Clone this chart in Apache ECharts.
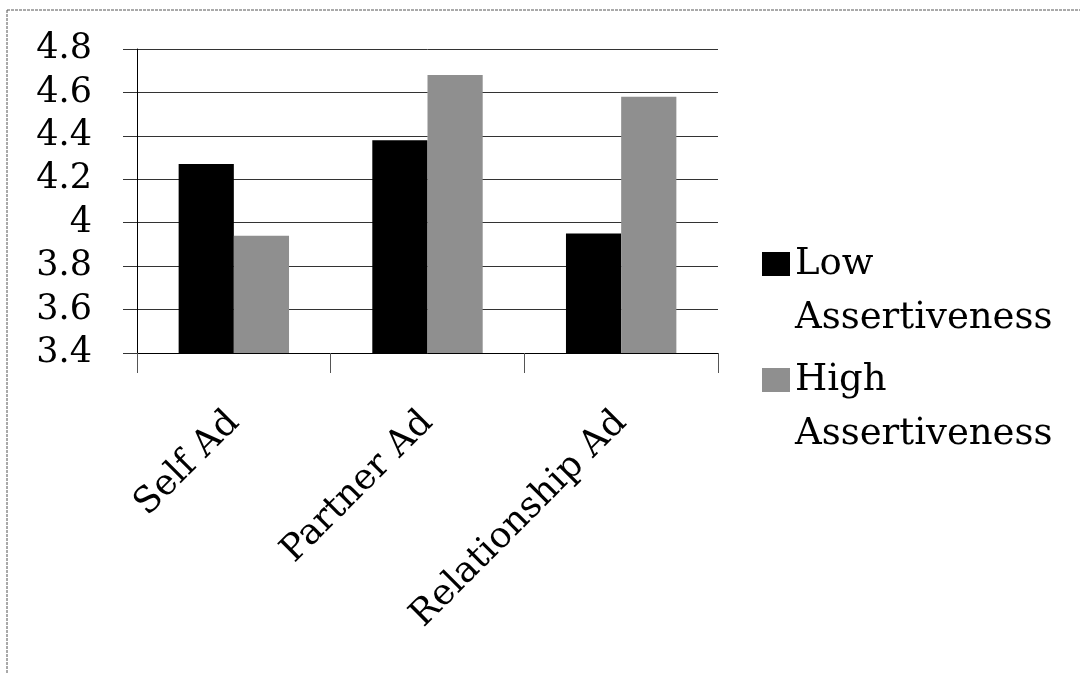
<!DOCTYPE html>
<html>
<head>
<meta charset="utf-8">
<script src="https://cdn.jsdelivr.net/npm/echarts@6/dist/echarts.min.js"></script>
<style>
html,body{margin:0;padding:0;background:#fff;}
#chart{width:1080px;height:674px;}
</style>
</head>
<body>
<div id="chart"></div>
<script>
var categories = ['Self Ad', 'Partner Ad', 'Relationship Ad'];
var lowAssertiveness = [4.27, 4.38, 3.95];
var highAssertiveness = [3.94, 4.68, 4.58];
var seriesNames = ['Low Assertiveness', 'High Assertiveness'];
var yMin = 3.4, yMax = 4.8, yInterval = 0.2;

var FONT = 'DejaVu Serif';
var chart = echarts.init(document.getElementById('chart'), null, {renderer: 'canvas'});
chart.setOption({
  animation: false,
  backgroundColor: '#fff',
  graphic: [
    {type: 'line', shape: {x1: 7, y1: 10, x2: 1080, y2: 10},
     style: {stroke: '#555', lineWidth: 1, lineDash: [3, 1]}},
    {type: 'line', shape: {x1: 7, y1: 10, x2: 7, y2: 674},
     style: {stroke: '#555', lineWidth: 1, lineDash: [3, 1]}}
  ],
  grid: {left: 137, right: 362, top: 49, bottom: 321, containLabel: false},
  legend: {
    orient: 'vertical',
    left: 762,
    top: 183,
    padding: 0,
    icon: 'rect',
    itemWidth: 28,
    itemHeight: 24,
    itemGap: -46,
    selectedMode: false,
    formatter: function (name) { return '\u00a0\n' + name.replace(' ', '\n'); },
    textStyle: {fontFamily: FONT, fontSize: 37, color: '#000', lineHeight: 54},
    data: seriesNames
  },
  xAxis: {
    type: 'category',
    data: categories,
    axisLine: {lineStyle: {color: '#000', width: 1}},
    axisTick: {show: true, length: 20, lineStyle: {color: '#555'}},
    axisLabel: {rotate: 45, margin: 64, fontFamily: FONT, fontSize: 36, color: '#000', interval: 0}
  },
  yAxis: {
    type: 'value',
    min: yMin, max: yMax, interval: yInterval,
    axisLine: {show: true, lineStyle: {color: '#000', width: 1}},
    axisTick: {show: true, length: 14, lineStyle: {color: '#333'}},
    splitLine: {show: true, lineStyle: {color: '#333', width: 1}},
    axisLabel: {margin: 45, fontFamily: FONT, fontSize: 35, color: '#000'}
  },
  series: [
    {name: seriesNames[0], type: 'bar', data: lowAssertiveness, barGap: '0%', barCategoryGap: '43%',
     itemStyle: {color: '#000'}},
    {name: seriesNames[1], type: 'bar', data: highAssertiveness, barGap: '0%', barCategoryGap: '43%',
     itemStyle: {color: '#8f8f8f'}}
  ]
});
</script>
</body>
</html>
